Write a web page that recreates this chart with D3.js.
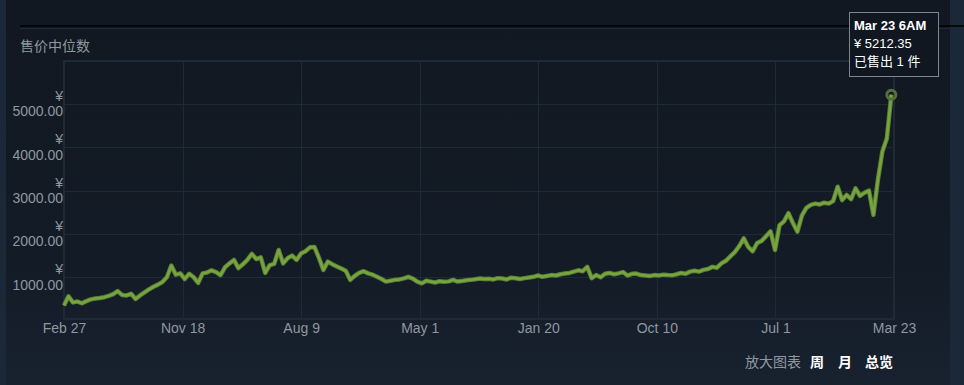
<!DOCTYPE html>
<html>
<head>
<meta charset="utf-8">
<script src="https://cdn.jsdelivr.net/npm/d3@7"></script>
<style>
body { margin: 0; background: #1b2838; font-family: Arial, "Liberation Sans", "Noto Sans CJK SC", sans-serif; }
</style>
</head>
<body>
<script>

var w = 964;
var h = 385;

// one price every 10 days starting Feb 27
var startDate = new Date(2019, 1, 27);
var stepDays = 10;
var prices = [
    350, 560, 420, 440, 400, 450, 490, 510, 520, 540,
    570, 610, 680, 590, 580, 620, 500, 580, 650, 720,
    780, 830, 890, 1000, 1270, 1060, 1090, 960, 1080, 1000,
    870, 1090, 1110, 1160, 1120, 1050, 1230, 1320, 1400, 1210,
    1300, 1400, 1540, 1420, 1460, 1100, 1280, 1310, 1630, 1320,
    1440, 1500, 1400, 1550, 1600, 1690, 1700, 1450, 1170, 1360,
    1300, 1250, 1200, 1150, 940, 1030, 1100, 1140, 1090, 1060,
    1010, 960, 900, 920, 940, 950, 975, 1010, 970, 900,
    860, 920, 900, 880, 910, 895, 905, 940, 900, 915,
    930, 940, 955, 970, 960, 965, 950, 980, 970, 950,
    990, 975, 960, 980, 995, 1010, 1040, 1010, 1030, 1050,
    1040, 1070, 1085, 1100, 1130, 1160, 1140, 1240, 980, 1050,
    1000, 1080, 1100, 1070, 1090, 1120, 1040, 1080, 1085, 1050,
    1040, 1030, 1050, 1040, 1060, 1050, 1045, 1070, 1100, 1080,
    1130, 1150, 1130, 1170, 1190, 1240, 1220, 1320, 1380, 1480,
    1580, 1720, 1900, 1700, 1600, 1790, 1840, 1950, 2060, 1630,
    2200, 2290, 2480, 2250, 2050, 2420, 2600, 2670, 2700, 2680,
    2720, 2700, 2760, 3090, 2780, 2900, 2800, 3050, 2880, 2950,
    3000, 2440, 3250, 3900, 4200, 5212.35
];
var endDate = d3.timeDay.offset(startDate, 1856);

var xLabels = ["Feb 27", "Nov 18", "Aug 9", "May 1", "Jan 20", "Oct 10", "Jul 1", "Mar 23"];
var yTicks = [1000, 2000, 3000, 4000, 5000];
var tipLines = ["Mar 23 6AM", "¥ 5212.35", "已售出 1 件"];
var rangeLinks = ["周", "月", "总览"];

var data = prices.map(function (p, i) {
    return { date: d3.timeDay.offset(startDate, i * stepDays), price: p };
});

var svg = d3.select("body")
    .append("svg")
    .attr("width", w)
    .attr("height", h)
    .style("display", "block");

var defs = svg.append("defs");
var grad = defs.append("linearGradient")
    .attr("id", "bg")
    .attr("x1", 0).attr("y1", 0).attr("x2", 0).attr("y2", 1);
grad.append("stop").attr("offset", "0%").attr("stop-color", "#111821");
grad.append("stop").attr("offset", "70%").attr("stop-color", "#131b26");
grad.append("stop").attr("offset", "100%").attr("stop-color", "#18222f");

svg.append("rect")
    .attr("x", 6).attr("y", 0)
    .attr("width", 944).attr("height", h)
    .attr("fill", "url(#bg)");

// top rule
svg.append("line")
    .attr("x1", 20).attr("x2", 964)
    .attr("y1", 26).attr("y2", 26)
    .attr("stroke", "#000000")
    .attr("stroke-width", 1.5);
svg.append("line")
    .attr("x1", 20).attr("x2", 964)
    .attr("y1", 28.5).attr("y2", 28.5)
    .attr("stroke", "#1f2a37")
    .attr("stroke-width", 1);

svg.append("text")
    .attr("x", 20)
    .attr("y", 51)
    .attr("fill", "#8f98a0")
    .style("font-size", "14px")
    .text("售价中位数");

var xScale = d3.scaleTime()
    .domain([startDate, endDate])
    .range([64, 894]);

var yScale = d3.scaleLinear()
    .domain([37, 5990])
    .range([319, 61]);

var tickDates = d3.range(xLabels.length).map(function (i) {
    return new Date(+startDate + i * (endDate - startDate) / (xLabels.length - 1));
});

// grid
svg.append("g")
    .selectAll("line")
    .data(yTicks)
    .enter()
    .append("line")
    .attr("x1", 64).attr("x2", 894)
    .attr("y1", function (d) { return Math.round(yScale(d)) + 0.5; })
    .attr("y2", function (d) { return Math.round(yScale(d)) + 0.5; })
    .attr("stroke", "#1f2a37");

svg.append("g")
    .selectAll("line")
    .data(tickDates.slice(1, -1))
    .enter()
    .append("line")
    .attr("x1", function (d) { return Math.round(xScale(d)) + 0.5; })
    .attr("x2", function (d) { return Math.round(xScale(d)) + 0.5; })
    .attr("y1", 61).attr("y2", 319)
    .attr("stroke", "#1f2a37");

// plot border
svg.append("rect")
    .attr("x", 64).attr("y", 61)
    .attr("width", 830).attr("height", 258)
    .attr("fill", "none")
    .attr("stroke", "#1e2a38")
    .attr("stroke-width", 2);

// y axis labels (two lines each)
var yLab = svg.append("g")
    .selectAll("text")
    .data(yTicks)
    .enter()
    .append("text")
    .attr("text-anchor", "end")
    .attr("fill", "#8f98a0")
    .style("font-size", "14px");
yLab.append("tspan")
    .attr("x", 63)
    .attr("y", function (d) { return yScale(d) - 3; })
    .text("¥");
yLab.append("tspan")
    .attr("x", 63)
    .attr("y", function (d) { return yScale(d) + 12.5; })
    .text(function (d) { return d3.format(".2f")(d); });

// x axis
var xAxis = d3.axisBottom(xScale)
    .tickValues(tickDates)
    .tickSize(0)
    .tickPadding(4)
    .tickFormat(function (d, i) { return xLabels[i]; });

var xg = svg.append("g")
    .attr("transform", "translate(0,319)")
    .call(xAxis);
xg.select(".domain").remove();
xg.selectAll("text")
    .attr("fill", "#8f98a0")
    .style("font-size", "14px")
    .style("font-family", "Arial, 'Liberation Sans', sans-serif");

// price line
var line = d3.line()
    .x(function (d) { return xScale(d.date); })
    .y(function (d) { return yScale(d.price); });

svg.append("path")
    .datum(data)
    .attr("d", line)
    .attr("fill", "none")
    .attr("stroke", "#5b8233")
    .attr("stroke-width", 4.5)
    .attr("stroke-linejoin", "round");

svg.append("path")
    .datum(data)
    .attr("d", line)
    .attr("fill", "none")
    .attr("stroke", "#78a540")
    .attr("stroke-width", 2.5)
    .attr("stroke-linejoin", "round");

var last = data[data.length - 1];
svg.append("circle")
    .attr("cx", xScale(last.date))
    .attr("cy", yScale(last.price))
    .attr("r", 4.5)
    .attr("fill", "none")
    .attr("stroke", "#55703a")
    .attr("stroke-width", 3);

// tooltip
var tip = svg.append("g").attr("transform", "translate(849,12)");
tip.append("rect")
    .attr("x", 0.5).attr("y", 0.5)
    .attr("width", 89).attr("height", 64)
    .attr("fill", "#101720")
    .attr("stroke", "#7d858d");
tip.selectAll("text")
    .data(tipLines)
    .enter()
    .append("text")
    .attr("x", 5)
    .attr("y", function (d, i) { return 18 + i * 18; })
    .attr("fill", "#ffffff")
    .style("font-size", "13px")
    .style("font-weight", function (d, i) { return i === 0 ? "bold" : "normal"; })
    .text(function (d) { return d; });

// zoom links
svg.append("text")
    .attr("x", 745)
    .attr("y", 367)
    .attr("fill", "#8f98a0")
    .style("font-size", "14px")
    .text("放大图表");

svg.append("g")
    .selectAll("text")
    .data(rangeLinks)
    .enter()
    .append("text")
    .attr("x", function (d, i) { return [810, 838, 865][i]; })
    .attr("y", 367)
    .attr("fill", "#ffffff")
    .style("font-size", "14px")
    .style("font-weight", "bold")
    .text(function (d) { return d; });

</script>
</body>
</html>
